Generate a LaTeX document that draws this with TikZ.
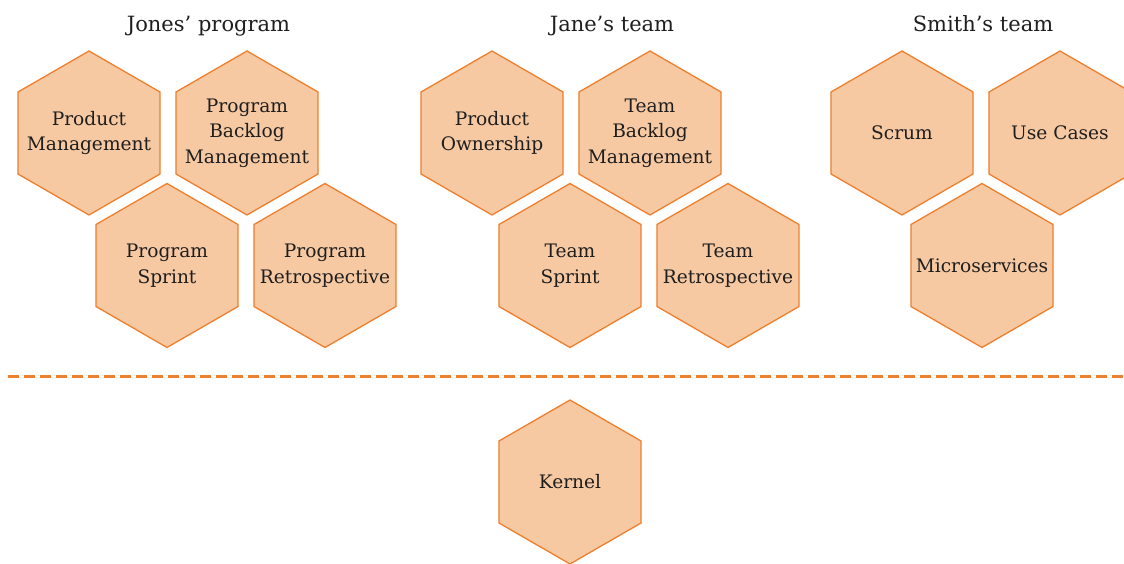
\documentclass[tikz,border=0pt]{standalone}
\usepackage{fontspec}
\setmainfont{DejaVu Serif}
\usetikzlibrary{shapes.geometric}
\definecolor{hexfill}{HTML}{F7C9A3}
\definecolor{hexline}{HTML}{EE7F2D}
\definecolor{inktext}{HTML}{1E1E1E}
\tikzset{
    hexa/.style={regular polygon, regular polygon sides=6, shape border rotate=30,
        minimum size=164pt, inner sep=0pt, draw=hexline, fill=hexfill, line width=1.3pt},
    hextext/.style={align=center, text=inktext, inner sep=0pt, font=\fontsize{18.6}{25.7}\selectfont},
    grouptitle/.style={anchor=base, text=inktext, font=\fontsize{21}{25}\selectfont}
}
\begin{document}
\begin{tikzpicture}[x=1pt,y=1pt]
    \useasboundingbox (0,0) rectangle (1124,563);

    % ===== group titles =====
    \node[grouptitle] (tJones) at (208.5,531) {Jones’ program};
    \node[grouptitle] (tJane)  at (612,531)   {Jane’s team};
    \node[grouptitle] (tSmith) at (983,531)   {Smith’s team};

    % ===== Jones' program =====
    \node[hexa, label={[hextext]center:Product\\Management}]          (prodMgmt)  at (89,430)    {};
    \node[hexa, label={[hextext]center:Program\\Backlog\\Management}] (progBack)  at (247,430)   {};
    \node[hexa, label={[hextext]center:Program\\Sprint}]              (progSpr)   at (167,297.5) {};
    \node[hexa, label={[hextext]center:Program\\Retrospective}]       (progRetro) at (325,297.5) {};

    % ===== Jane's team =====
    \node[hexa, label={[hextext]center:Product\\Ownership}]           (prodOwn)   at (492,430)   {};
    \node[hexa, label={[hextext]center:Team\\Backlog\\Management}]    (teamBack)  at (650,430)   {};
    \node[hexa, label={[hextext]center:Team\\Sprint}]                 (teamSpr)   at (570,297.5) {};
    \node[hexa, label={[hextext]center:Team\\Retrospective}]          (teamRetro) at (728,297.5) {};

    % ===== Smith's team =====
    \node[hexa, label={[hextext]center:Scrum}]                        (scrum)     at (902,430)   {};
    \node[hexa, label={[hextext]center:Use Cases}]                    (useCases)  at (1060,430)  {};
    \node[hexa, label={[hextext]center:Microservices}]                (micro)     at (982,297.5) {};

    % ===== separator =====
    \coordinate (sepL) at (8,187);
    \coordinate (sepR) at (1124,187);
    \draw[hexline, line width=3pt, dash pattern=on 11pt off 5pt] (sepL) -- (sepR);

    % ===== kernel =====
    \node[hexa, label={[hextext]center:Kernel}] (kernel) at (570,81) {};
\end{tikzpicture}
\end{document}
